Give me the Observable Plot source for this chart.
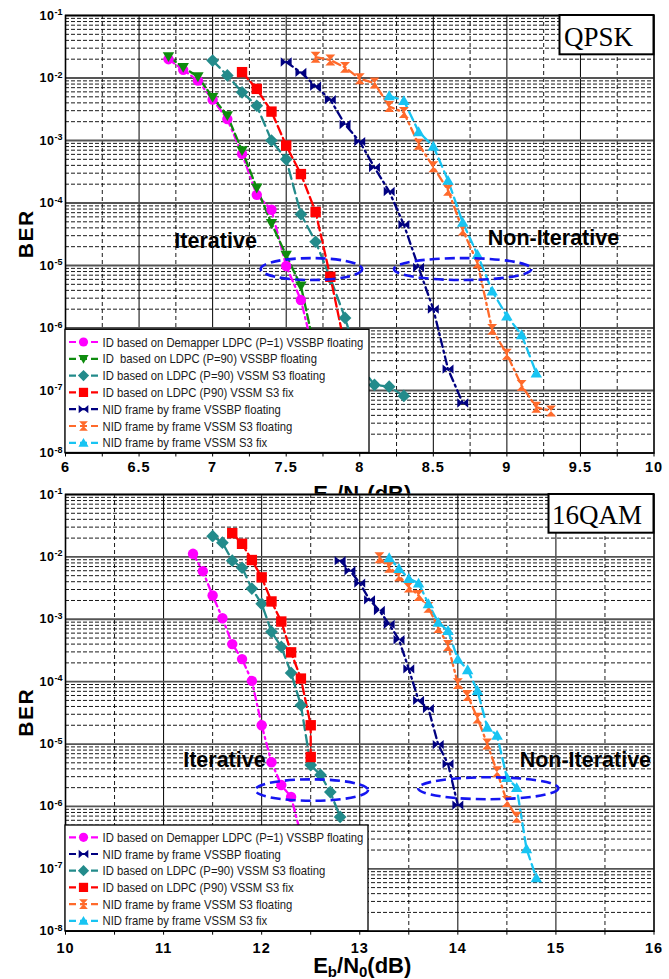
<!DOCTYPE html>
<html><head><meta charset="utf-8">
<script src="https://cdn.jsdelivr.net/npm/d3@7"></script>
<script src="https://cdn.jsdelivr.net/npm/@observablehq/plot@0.6"></script>
<style>
body{margin:0;background:#fff;}
#wrap{position:relative;width:669px;height:979px;overflow:hidden;background:#fff;}
#top,#bot{position:absolute;left:0;}
#top{top:0;} #bot{top:475px;}
</style></head><body><div id="wrap"><div id="top"></div><div id="bot"></div></div>
<script>
// ---------------- QPSK data ----------------
const qpskDemapP1X   = [6.7,6.8,6.9,7.0,7.1,7.2,7.3,7.4,7.5,7.6,7.7];
const qpskDemapP1BER = [2.0e-2,1.35e-2,9.1e-3,4.5e-3,2.2e-3,6.1e-4,1.35e-4,7.8e-5,9.8e-6,2.8e-6,3e-7];
const qpskLdpcBPX    = [6.7,6.8,6.9,7.0,7.1,7.2,7.3,7.4,7.5,7.6,7.7];
const qpskLdpcBPBER  = [2.2e-2,1.48e-2,1.05e-2,4.9e-3,2.5e-3,6.9e-4,1.74e-4,4.7e-5,1.46e-5,4.7e-6,4e-7];
const qpskLdpcS3X    = [7.0,7.1,7.2,7.3,7.4,7.5,7.6,7.7,7.8,7.9,8.0,8.1,8.2,8.3];
const qpskLdpcS3BER  = [1.9e-2,1.1e-2,5.9e-3,3.6e-3,1.0e-3,5.0e-4,6.6e-5,2.4e-5,6.3e-6,1.45e-6,2.5e-7,1.23e-7,1.15e-7,8.2e-8];
const qpskLdpcFixX   = [7.2,7.3,7.4,7.5,7.6,7.7,7.8,7.9];
const qpskLdpcFixBER = [1.24e-2,6.7e-3,2.9e-3,8.3e-4,2.9e-4,7.2e-5,6.6e-6,5e-7];
const qpskNidBPX     = [7.5,7.6,7.7,7.8,7.9,8.0,8.1,8.2,8.3,8.4,8.5,8.6,8.7];
const qpskNidBPBER   = [1.8e-2,1.23e-2,7.4e-3,4.5e-3,1.8e-3,9.6e-4,3.7e-4,1.53e-4,4.5e-5,9.3e-6,2.0e-6,2.2e-7,6.3e-8];
const qpskNidS3X     = [7.7,7.8,7.9,8.0,8.1,8.2,8.3,8.4,8.5,8.6,8.7,8.8,8.9,9.0,9.1,9.2,9.3];
const qpskNidS3BER   = [2.15e-2,1.94e-2,1.48e-2,9.7e-3,8.3e-3,3.5e-3,2.8e-3,8.7e-4,3.8e-4,1.6e-4,3.7e-5,1.1e-5,9.5e-7,3.8e-7,1.2e-7,5.4e-8,4.7e-8];
const qpskNidFixX    = [8.2,8.3,8.4,8.5,8.6,8.7,8.8,8.9,9.0,9.1,9.2];
const qpskNidFixBER  = [5.2e-3,4.35e-3,1.38e-3,8.1e-4,2.3e-4,4.9e-5,1.5e-5,3.9e-6,1.55e-6,7.8e-7,1.9e-7];

// ---------------- 16QAM data ----------------
const qamDemapP1X    = [11.3,11.4,11.5,11.6,11.7,11.8,11.9,12.0,12.1,12.2,12.3,12.4];
const qamDemapP1BER  = [1.12e-2,5.9e-3,2.4e-3,1.04e-3,4.0e-4,2.3e-4,1.03e-4,2.0e-5,5.1e-6,2.2e-6,1.42e-6,3.5e-7];
const qamNidBPX      = [12.8,12.9,13.0,13.1,13.2,13.3,13.4,13.5,13.6,13.7,13.8,13.9,14.0];
const qamNidBPBER    = [8.7e-3,6.0e-3,3.8e-3,2.05e-3,1.38e-3,8.3e-4,4.7e-4,1.6e-4,5.0e-5,3.7e-5,9.8e-6,4.8e-6,1.05e-6];
const qamLdpcS3X     = [11.5,11.6,11.7,11.8,11.9,12.0,12.1,12.2,12.3,12.4,12.5,12.6,12.7,12.8];
const qamLdpcS3BER   = [2.15e-2,1.69e-2,8.7e-3,6.7e-3,3.1e-3,1.77e-3,6.3e-4,3.6e-4,1.38e-4,4.2e-5,4.6e-6,3.2e-6,1.7e-6,6.8e-7];
const qamLdpcFixX    = [11.7,11.8,11.9,12.0,12.1,12.2,12.3,12.4,12.5,12.5];
const qamLdpcFixBER  = [2.4e-2,1.62e-2,8.9e-3,4.7e-3,1.93e-3,9.2e-4,2.95e-4,1.12e-4,2.0e-5,6.2e-6];
const qamNidS3X      = [13.2,13.3,13.4,13.5,13.6,13.7,13.8,13.9,14.0,14.1,14.2,14.3,14.4,14.5,14.6];
const qamNidS3BER    = [9.7e-3,6.8e-3,5.0e-3,3.3e-3,2.4e-3,1.55e-3,7.4e-4,3.8e-4,9.3e-5,6.0e-5,2.6e-5,1.0e-5,3.6e-6,1.2e-6,6.7e-7];
const qamNidFixX     = [13.3,13.4,13.5,13.6,13.7,13.8,13.9,14.0,14.1,14.2,14.3,14.4,14.5,14.6,14.7,14.8];
const qamNidFixBER   = [9.7e-3,6.5e-3,4.5e-3,3.8e-3,1.77e-3,8.9e-4,6.6e-4,2.3e-4,1.55e-4,7.2e-5,1.86e-5,1.38e-5,2.9e-6,2.0e-6,2.1e-7,7.2e-8];

// ---------------- labels & ticks ----------------
const qpskXTickLabels = [6,6.5,7,7.5,8,8.5,9,9.5,10];
const qpskXQuarter    = [6.25,6.75,7.25,7.75,8.25,8.75,9.25,9.75];
const qamXTickLabels  = [10,11,12,13,14,15,16];
const qamXHalf        = [10.5,11.5,12.5,13.5,14.5,15.5];
const berDecades      = [1e-1,1e-2,1e-3,1e-4,1e-5,1e-6,1e-7,1e-8];
const berMinorMant    = [2,3,4,5,6,7,8,9];

const legendTop = [
  "ID based on Demapper LDPC (P=1) VSSBP floating",
  "ID  based on LDPC (P=90) VSSBP floating",
  "ID based on LDPC (P=90) VSSM S3 floating",
  "ID based on LDPC (P90) VSSM S3 fix",
  "NID frame by frame VSSBP floating",
  "NID frame by frame VSSM S3 floating",
  "NID frame by frame VSSM S3 fix"];
const legendBot = [
  "ID based on Demapper LDPC (P=1) VSSBP floating",
  "NID frame by frame VSSBP floating",
  "ID based on LDPC (P=90) VSSM S3 floating",
  "ID based on LDPC (P90) VSSM S3 fix",
  "NID frame by frame VSSM S3 floating",
  "NID frame by frame VSSM S3 fix"];

const qpskNoteText = ["Iterative","Non-Iterative"];
const qpskNoteX = [6.74, 8.87];
const qpskNoteY = [2.5e-5, 2.7e-5];
const qamNoteText = ["Iterative","Non-Iterative"];
const qamNoteX = [11.2, 14.63];
const qamNoteY = [5.6e-6, 5.6e-6];

// ellipses: [x1, x2, BERtop, BERbottom]
const qpskEllipses = [[7.33,8.02,1.29e-5,5.75e-6],[8.236,9.17,1.29e-5,5.75e-6]];
const qamEllipses  = [[11.94,13.09,2.67e-6,1.21e-6],[13.6,15.03,2.88e-6,1.28e-6]];

// ---------------- symbols ----------------
const rOf = s => Math.sqrt(s/Math.PI);
const symCircle = {draw(c,s){const r=rOf(s); c.moveTo(r,0); c.arc(0,0,r,0,2*Math.PI); c.closePath();}};
const symSquare = {draw(c,s){const r=rOf(s)*1.0; c.rect(-r,-r,2*r,2*r);}};
const symDiamond = {draw(c,s){const d=rOf(s)*1.22; c.moveTo(0,-d); c.lineTo(d,0); c.lineTo(0,d); c.lineTo(-d,0); c.closePath();}};
const symTriDown = {draw(c,s){const r=rOf(s); c.moveTo(-r*1.1,-r*0.85); c.lineTo(r*1.1,-r*0.85); c.lineTo(0,r*1.05); c.closePath();}};
const symTriUp = {draw(c,s){const r=rOf(s); c.moveTo(-r*1.1,r*0.85); c.lineTo(r*1.1,r*0.85); c.lineTo(0,-r*1.05); c.closePath();}};
const symBowtie = {draw(c,s){const r=rOf(s); const w=r*1.05,h=r*0.9;
  c.moveTo(-w,-h); c.lineTo(0,0); c.lineTo(-w,h); c.closePath();
  c.moveTo(w,-h); c.lineTo(0,0); c.lineTo(w,h); c.closePath();}};
const symHourglass = {draw(c,s){const r=rOf(s); const w=r*0.95,h=r*1.05;
  c.moveTo(-w,-h); c.lineTo(w,-h); c.lineTo(0,0); c.closePath();
  c.moveTo(-w,h); c.lineTo(w,h); c.lineTo(0,0); c.closePath();}};

const STYLE = {
  demapP1: {color:"#FF00FF", dash:"7,4,2,4", symbol:symCircle},
  ldpcBP:  {color:"#0E8C0E", dash:"9,4", symbol:symTriDown},
  ldpcS3:  {color:"#238B8B", dash:"10,5", symbol:symDiamond},
  ldpcFix: {color:"#FF0000", dash:"9,4", symbol:symSquare},
  nidBP:   {color:"#000080", dash:"8,4,2,4", symbol:symBowtie},
  nidS3:   {color:"#FF6A2B", dash:"8,4,2,4", symbol:symHourglass},
  nidFix:  {color:"#18C4F2", dash:"9,5", symbol:symTriUp}
};
const FONT = "Liberation Sans, Arial, Helvetica, sans-serif";
const R = 5.2;

function pts(xs, ys){ return xs.map((x,i)=>({x, y: ys[i]})); }

function makePanel(cfg){
  const minorY = [];
  for (const d of berDecades.slice(1)) for (const m of berMinorMant) minorY.push(d*m);
  const marks = [
    Plot.frame({fill:"white", stroke:null}),
    Plot.ruleY(minorY, {stroke:"black", strokeWidth:0.9, strokeDasharray:"4,2"}),
    Plot.ruleX(cfg.minorX, {stroke:"black", strokeWidth:0.9, strokeDasharray:"4,3"}),
    Plot.ruleX(cfg.majorX, {stroke:"black", strokeWidth:1}),
    Plot.ruleY(berDecades, {stroke:"#555", strokeWidth:1.8})
  ];
  for (const s of cfg.series){
    const st = STYLE[s.key];
    marks.push(Plot.line(pts(s.x,s.y), {x:"x", y:"y", stroke:st.color, strokeWidth:2.3, strokeDasharray:st.dash}));
  }
  for (const s of cfg.series){
    const st = STYLE[s.key];
    marks.push(Plot.dot(pts(s.x,s.y), {x:"x", y:"y", fill:st.color, stroke:"none", r:R, symbol:st.symbol}));
  }
  marks.push(Plot.text(cfg.noteText.map((t,i)=>({t, x:cfg.noteX[i], y:cfg.noteY[i]})),
    {x:"x", y:"y", text:"t", textAnchor:"start", fontSize:21.5, fontWeight:"bold", fill:"black"}));
  marks.push(Plot.frame({stroke:"black", strokeWidth:1.6}));
  marks.push(Plot.axisX(cfg.tickMarks, {tickSize:4, tickFormat:()=>"", label:null}));
  marks.push(Plot.axisX(cfg.tickLabels, {tickSize:4, tickPadding:cfg.xPad, tickFormat:d=>String(d), label:null}));
  marks.push(Plot.axisY(berDecades, {tickSize:0, tickPadding:3, tickFormat:d=>String(Math.round(Math.log10(d))), label:null}));
  const chart = Plot.plot({
    width:669, height:cfg.height,
    marginLeft:65, marginRight:15.5, marginTop:cfg.mt, marginBottom:cfg.mb,
    style:{fontFamily:FONT, background:"transparent", overflow:"hidden"},
    x:{domain:cfg.xDomain, axis:null, label:null},
    y:{type:"log", domain:[1e-8,1e-1], axis:null, label:null},
    marks
  });
  const svg = d3.select(chart);
  const x = chart.scale("x"), y = chart.scale("y");
  svg.selectAll('g[aria-label="x-axis tick label"]').attr("font-size", 14.5).attr("font-weight","bold").attr("letter-spacing","1px");
  svg.selectAll('g[aria-label="y-axis tick label"]').attr("font-size", 12.5).attr("font-weight","bold");
  svg.selectAll('g[aria-label="y-axis tick label"] text').each(function(){
    const e = this.textContent;
    const t = d3.select(this); t.text(null);
    t.append("tspan").attr("letter-spacing","0.6px").text("10");
    t.append("tspan").attr("dy","-0.5em").attr("font-size","9px").text(e);
  });
  // ellipses
  const eg = svg.append("g");
  for (const [x1,x2,y1,y2] of cfg.ellipses){
    const px1=x.apply(x1), px2=x.apply(x2), py1=y.apply(y1), py2=y.apply(y2);
    eg.append("ellipse").attr("cx",(px1+px2)/2).attr("cy",(py1+py2)/2)
      .attr("rx",(px2-px1)/2).attr("ry",Math.abs(py2-py1)/2)
      .attr("fill","none").attr("stroke","#1515F0").attr("stroke-width",2.6).attr("stroke-dasharray","10,5");
  }
  // legend
  const left = 65, bottom = cfg.height - cfg.mb;
  const lg = svg.append("g").attr("text-anchor","start");
  const top = bottom - cfg.legendH;
  lg.append("rect").attr("x",left).attr("y",top).attr("width",cfg.legendW).attr("height",cfg.legendH)
    .attr("fill","white").attr("stroke","black").attr("stroke-width",1.3);
  cfg.legend.forEach((lab,i)=>{
    const st = STYLE[cfg.legendKeys[i]];
    const cy = top + cfg.legendRow0 + i*cfg.legendStep;
    lg.append("line").attr("x1",left+4).attr("x2",left+33).attr("y1",cy).attr("y2",cy)
      .attr("stroke",st.color).attr("stroke-width",2.2).attr("stroke-dasharray","7,4");
    const p = d3.path(); st.symbol.draw(p, 4.6*4.6*Math.PI);
    lg.append("path").attr("d",p.toString()).attr("transform",`translate(${left+18.5},${cy})`).attr("fill",st.color);
    lg.append("text").attr("class","legtxt").attr("x",0).attr("y",0).attr("dy","0.36em")
      .attr("text-anchor","start").attr("data-x",left+37.5).attr("data-y",cy)
      .attr("transform",`translate(${left+37.5},${cy}) scale(0.9,1)`)
      .attr("font-size",13).attr("font-weight","normal").attr("fill","#1a1a1a").attr("font-family",FONT).text(lab);
  });
  // mod box
  const right = 669 - 15.5;
  svg.append("rect").attr("x",right-cfg.boxW).attr("y",cfg.mt).attr("width",cfg.boxW).attr("height",cfg.boxH)
    .attr("fill","white").attr("stroke","black").attr("stroke-width",2);
  svg.append("text").attr("x",right-cfg.boxW+cfg.boxTx).attr("y",cfg.mt+cfg.boxH-8.5)
    .attr("text-anchor","start")
    .attr("font-family","Liberation Serif, Times New Roman, serif").attr("font-size",27)
    .attr("fill","black").text(cfg.boxLabel);
  // BER label
  const cyMid = (cfg.mt + bottom)/2;
  svg.append("text").attr("transform",`translate(33,${cyMid}) rotate(-90)`).attr("text-anchor","middle")
    .attr("font-size",21).attr("font-weight","bold").attr("letter-spacing","1.5px").attr("font-family",FONT).text("BER");
  // x label
  const xl = svg.append("text").attr("x",(65+right)/2+3).attr("y",cfg.xlabY).attr("text-anchor","middle")
    .attr("font-size",22).attr("font-weight","bold").attr("font-family",FONT);
  xl.append("tspan").text("E");
  xl.append("tspan").attr("font-size",15).attr("dy",4).text("b");
  xl.append("tspan").attr("dy",-4).text("/N");
  xl.append("tspan").attr("font-size",15).attr("dy",4).text("0");
  xl.append("tspan").attr("dy",-4).text("(dB)");
  return chart;
}

const topChart = makePanel({
  height:510, mt:15, mb:57.5, xPad:5, xlabY:501,
  xDomain:[6,10], majorX:[6.5,7,7.5,8,8.5,9,9.5], minorX:qpskXQuarter,
  tickMarks:qpskXQuarter, tickLabels:qpskXTickLabels,
  series:[
    {key:"demapP1", x:qpskDemapP1X, y:qpskDemapP1BER},
    {key:"ldpcBP", x:qpskLdpcBPX, y:qpskLdpcBPBER},
    {key:"ldpcS3", x:qpskLdpcS3X, y:qpskLdpcS3BER},
    {key:"ldpcFix", x:qpskLdpcFixX, y:qpskLdpcFixBER},
    {key:"nidBP", x:qpskNidBPX, y:qpskNidBPBER},
    {key:"nidS3", x:qpskNidS3X, y:qpskNidS3BER},
    {key:"nidFix", x:qpskNidFixX, y:qpskNidFixBER}],
  noteText:qpskNoteText, noteX:qpskNoteX, noteY:qpskNoteY, ellipses:qpskEllipses,
  legend:legendTop, legendKeys:["demapP1","ldpcBP","ldpcS3","ldpcFix","nidBP","nidS3","nidFix"],
  legendW:304, legendH:123.2, legendRow0:12.7, legendStep:16.8,
  boxW:94, boxH:39.3, boxTx:4.5, boxLabel:"QPSK"
});
const botChart = makePanel({
  height:504, mt:19, mb:48.3, xPad:8, xlabY:498,
  xDomain:[10,16], majorX:[11,12,13,14,15], minorX:qamXHalf,
  tickMarks:qamXHalf, tickLabels:qamXTickLabels,
  series:[
    {key:"demapP1", x:qamDemapP1X, y:qamDemapP1BER},
    {key:"nidBP", x:qamNidBPX, y:qamNidBPBER},
    {key:"ldpcS3", x:qamLdpcS3X, y:qamLdpcS3BER},
    {key:"ldpcFix", x:qamLdpcFixX, y:qamLdpcFixBER},
    {key:"nidS3", x:qamNidS3X, y:qamNidS3BER},
    {key:"nidFix", x:qamNidFixX, y:qamNidFixBER}],
  noteText:qamNoteText, noteX:qamNoteX, noteY:qamNoteY, ellipses:qamEllipses,
  legend:legendBot, legendKeys:["demapP1","nidBP","ldpcS3","ldpcFix","nidS3","nidFix"],
  legendW:303, legendH:105.7, legendRow0:12.3, legendStep:16.7,
  boxW:105, boxH:38.7, boxTx:3.5, boxLabel:"16QAM"
});
document.getElementById("top").appendChild(topChart);
document.getElementById("bot").appendChild(botChart);
// fit legend text width to the reference (first row spans ~261px)
for (const ch of [topChart, botChart]) {
  const nodes = d3.select(ch).selectAll("text.legtxt").nodes();
  if (nodes.length){
    const w0 = nodes[0].getComputedTextLength();
    if (w0 > 0){
      const k = Math.min(1, 261 / w0);
      nodes.forEach(n => n.setAttribute("transform", `translate(${n.getAttribute("data-x")},${n.getAttribute("data-y")}) scale(${k},1)`));
    }
  }
}
</script></body></html>
